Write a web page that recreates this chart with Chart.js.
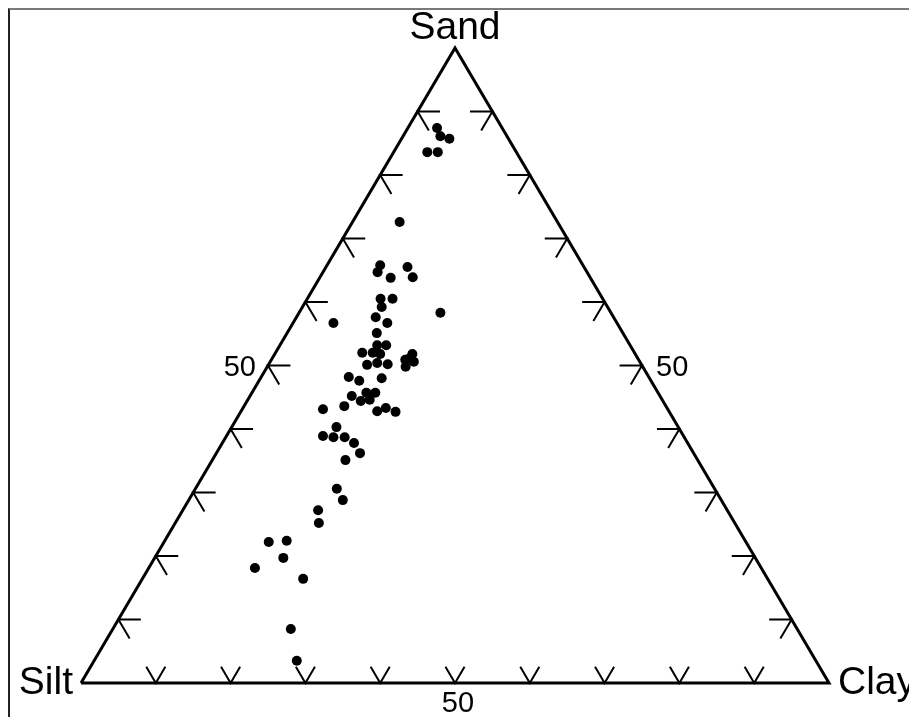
<!DOCTYPE html>
<html>
<head>
<meta charset="utf-8">
<script src="https://cdn.jsdelivr.net/npm/chart.js@4/dist/chart.umd.min.js"></script>
<style>
  html, body { margin: 0; padding: 0; background: #fff; }
  #wrap { position: relative; width: 909px; height: 717px; overflow: hidden; }
  #frame { position: absolute; left: 8px; top: 8px; width: 920px; height: 720px;
           border-left: 2px solid #222; border-top: 2px solid #7a7a7a; box-sizing: border-box; }
  canvas { position: absolute; left: 0; top: 0; }
</style>
</head>
<body>
<div id="wrap">
  <div id="frame"></div>
  <canvas id="c" width="909" height="717"></canvas>
</div>
<script>
// ---- Data (percent composition of each sample) ----
const sand = [87.4, 86.1, 85.7, 83.6, 83.6, 72.6, 65.8, 64.7, 63.8, 65.5, 63.9, 60.5, 60.5, 59.2, 57.6, 56.7,
              58.3, 56.7, 55.1, 53.2, 53.2, 52.0, 52.0, 51.8, 50.1, 50.4, 50.2, 51.8, 50.9, 50.6, 49.8, 51.2,
              48.2, 47.6, 48.0, 45.2, 45.7, 45.7, 44.4, 44.6, 42.8, 43.3, 42.7, 43.1, 43.6, 40.3, 38.9, 38.7,
              38.7, 37.8, 36.2, 35.1, 30.6, 28.8, 27.2, 25.2, 22.2, 22.4, 19.7, 18.1, 16.4, 8.5, 3.5];
const silt = [8.7, 8.9, 7.9, 11.9, 10.5, 21.1, 27.1, 28.0, 26.7, 23.6, 23.7, 29.7, 28.1, 30.2, 31.8, 30.7,
              22.8, 37.9, 32.9, 33.8, 32.6, 36.4, 35.0, 34.1, 36.7, 35.2, 33.9, 29.8, 31.2, 30.2, 31.7, 30.4,
              40.1, 39.0, 35.8, 41.2, 39.0, 37.8, 40.4, 39.1, 39.0, 37.6, 36.6, 46.1, 43.0, 45.7, 48.2, 46.9,
              45.4, 44.6, 44.6, 47.1, 50.5, 50.6, 54.7, 55.6, 63.8, 61.3, 63.1, 67.7, 62.1, 67.7, 69.4];
const clay = [3.9, 5.0, 6.4, 4.5, 5.9, 6.3, 7.1, 7.3, 9.5, 10.9, 12.4, 9.8, 11.4, 10.6, 10.6, 12.6,
              18.9, 5.4, 12.0, 13.0, 14.2, 11.6, 13.0, 14.1, 13.2, 14.4, 15.9, 18.4, 17.9, 19.2, 18.5, 18.4,
              11.7, 13.4, 16.2, 13.6, 15.3, 16.5, 15.2, 16.3, 18.2, 19.1, 20.7, 10.8, 13.4, 14.0, 12.9, 14.4,
              15.9, 17.6, 19.2, 17.8, 18.9, 20.6, 18.1, 19.2, 14.0, 16.3, 17.2, 14.2, 21.5, 23.8, 27.1];

const vertexNames = ['Sand', 'Silt', 'Clay'];
const tickValues = [10, 20, 30, 40, 50, 60, 70, 80, 90];
const labeledTicks = [50];

// ---- Ternary -> cartesian (x: 0..100 along base, y: 0..100 sand) ----
function toXY(s, si, c) {
  const t = s + si + c;
  const S = s / t * 100, C = c / t * 100;
  return { x: C + S / 2, y: S };
}

// Triangle outline from the three pure compositions
const V = {
  Sand: toXY(100, 0, 0),
  Silt: toXY(0, 100, 0),
  Clay: toXY(0, 0, 100)
};
const triangle = [V.Silt, V.Sand, V.Clay, V.Silt];

// Tick marks (arrow-like barbs), separated by null gaps
const L = 3;
const ticks = [];
tickValues.forEach(v => {
  // left edge (clay = 0)
  ticks.push(toXY(v, 100 - v - L, L), toXY(v, 100 - v, 0), toXY(v - L, 100 - v, L), { x: 0, y: null });
  // right edge (silt = 0)
  ticks.push(toXY(v, L, 100 - v - L), toXY(v, 0, 100 - v), toXY(v - L, L, 100 - v), { x: 0, y: null });
  // bottom edge (sand = 0)
  ticks.push(toXY(L * 0.85, 100 - v, v - L * 0.85), toXY(0, 100 - v, v), toXY(L * 0.85, 100 - v - L * 0.85, v), { x: 0, y: null });
});

const points = sand.map((s, i) => toXY(s, silt[i], clay[i]));

const labelPlugin = {
  id: 'ternaryLabels',
  afterDatasetsDraw(chart) {
    const ctx = chart.ctx, xs = chart.scales.x, ys = chart.scales.y;
    const px = p => ({ x: xs.getPixelForValue(p.x), y: ys.getPixelForValue(p.y) });
    ctx.save();
    ctx.fillStyle = '#000';
    ctx.font = '39px "Liberation Sans", Arial, sans-serif';
    let p = px(V.Sand);
    ctx.textAlign = 'center'; ctx.textBaseline = 'alphabetic';
    ctx.fillText(vertexNames[0], p.x, p.y - 9);
    p = px(V.Silt);
    ctx.textAlign = 'right';
    ctx.fillText(vertexNames[1], p.x - 8, p.y + 11);
    p = px(V.Clay);
    ctx.textAlign = 'left';
    ctx.fillText(vertexNames[2], p.x + 9, p.y + 11);

    ctx.font = '29px "Liberation Sans", Arial, sans-serif';
    ctx.textBaseline = 'middle';
    labeledTicks.forEach(v => {
      let q = px(toXY(v, 100 - v, 0));
      ctx.textAlign = 'right';
      ctx.fillText(String(v), q.x - 12, q.y + 2);
      q = px(toXY(v, 0, 100 - v));
      ctx.textAlign = 'left';
      ctx.fillText(String(v), q.x + 14, q.y + 2);
      q = px(toXY(0, 100 - v, v));
      ctx.textAlign = 'center';
      ctx.fillText(String(v), q.x + 3, q.y + 21);
    });
    ctx.restore();
  }
};

new Chart(document.getElementById('c'), {
  type: 'scatter',
  data: {
    datasets: [
      { type: 'line', data: triangle, borderColor: '#000', borderWidth: 3, pointRadius: 0,
        fill: false, tension: 0, borderJoinStyle: 'miter', clip: false, order: 2 },
      { type: 'line', data: ticks, borderColor: '#000', borderWidth: 2, pointRadius: 0,
        fill: false, tension: 0, spanGaps: false, clip: false, order: 3 },
      { type: 'scatter', data: points, backgroundColor: '#000', borderColor: '#000', borderWidth: 0,
        pointRadius: 5, clip: false, order: 1 }
    ]
  },
  options: {
    responsive: false,
    animation: false,
    layout: { padding: { left: 81, right: 80, top: 48, bottom: 34 } },
    plugins: { legend: { display: false }, tooltip: { enabled: false } },
    scales: {
      x: { type: 'linear', min: 0, max: 100, display: false },
      y: { type: 'linear', min: 0, max: 100, display: false }
    }
  },
  plugins: [labelPlugin]
});
</script>
</body>
</html>
